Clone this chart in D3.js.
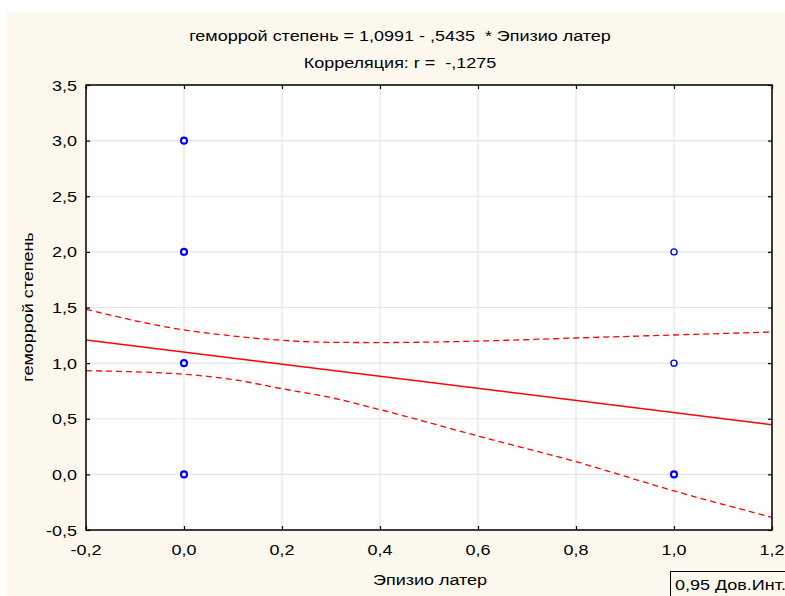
<!DOCTYPE html>
<html><head><meta charset="utf-8">
<script src="https://cdn.jsdelivr.net/npm/d3@7"></script>
<style>
html,body{margin:0;padding:0;background:#fff;}
svg{display:block;}
text{font-family:"Liberation Sans",Arial,sans-serif;fill:#000;white-space:pre;}
</style></head>
<body>
<svg id="chart" width="785" height="596"></svg>
<script>
// ---- data ----
const titleLines = ["геморрой степень = 1,0991 - ,5435  * Эпизио латер", "Корреляция: r =  -,1275"];
const xTitle = "Эпизио латер";
const yTitle = "геморрой степень";
const legendLabel = "0,95 Дов.Инт.";
const xTicks = [-0.2, 0.0, 0.2, 0.4, 0.6, 0.8, 1.0, 1.2];
const yTicks = [-0.5, 0.0, 0.5, 1.0, 1.5, 2.0, 2.5, 3.0, 3.5];
const pointX = [0, 0, 0, 0, 1, 1, 1];
const pointY = [0, 1, 2, 3, 0, 1, 2];
const pointCount = [3, 3, 3, 2, 3, 1, 1];
const regX = [-0.2, 1.2];
const regY = [1.2078, 0.4469];
const ciX = [-0.2, 0.0, 0.1, 0.2, 0.3, 0.4, 0.6, 0.8, 1.0, 1.2];
const ciUpper = [1.484, 1.298, 1.244, 1.205, 1.187, 1.185, 1.198, 1.226, 1.253, 1.280];
const ciLower = [0.932, 0.900, 0.852, 0.770, 0.690, 0.582, 0.345, 0.114, -0.149, -0.386];

// ---- layout ----
const svg = d3.select("#chart");
const L = 86, R = 772, T = 85, B = 530;
const FS = 15.5, SX = 1.16;
const fmt = v => d3.format(".1f")(v).replace(".", ",").replace("−", "-");

function label(parent, x, y, str, anchor, rot) {
  const g = parent.append("g").attr("transform", `translate(${x},${y})` + (rot ? ` rotate(${rot})` : "") + ` scale(${SX},1)`);
  g.append("text").attr("text-anchor", anchor).attr("font-size", FS).text(str);
  return g;
}

svg.append("rect").attr("x", 7).attr("y", 12).attr("width", 778).attr("height", 584).attr("fill", "#FDF8EE");

const x = d3.scaleLinear().domain([-0.2, 1.2]).range([L, R]);
const y = d3.scaleLinear().domain([-0.5, 3.5]).range([B, T]);

svg.append("rect").attr("x", L).attr("y", T).attr("width", R - L).attr("height", B - T).attr("fill", "#fff");

// grid
svg.append("g").selectAll("line").data(xTicks).join("line")
  .attr("x1", d => x(d)).attr("x2", d => x(d)).attr("y1", T).attr("y2", B)
  .attr("stroke", "#E4E4E4").attr("stroke-width", 1.2);
svg.append("g").selectAll("line").data(yTicks).join("line")
  .attr("y1", d => y(d)).attr("y2", d => y(d)).attr("x1", L).attr("x2", R)
  .attr("stroke", "#E4E4E4").attr("stroke-width", 1.2);

// clip
svg.append("clipPath").attr("id", "clip").append("rect")
  .attr("x", L).attr("y", T).attr("width", R - L).attr("height", B - T);
const plot = svg.append("g").attr("clip-path", "url(#clip)");

const lineGen = d3.line().x(d => x(d[0])).y(d => y(d[1])).curve(d3.curveMonotoneX);
plot.append("path").datum(ciX.map((v, i) => [v, ciUpper[i]]))
  .attr("d", lineGen).attr("fill", "none").attr("stroke", "#FF0000")
  .attr("stroke-width", 1.3).attr("stroke-dasharray", "6,4");
plot.append("path").datum(ciX.map((v, i) => [v, ciLower[i]]))
  .attr("d", lineGen).attr("fill", "none").attr("stroke", "#FF0000")
  .attr("stroke-width", 1.3).attr("stroke-dasharray", "6,4");
plot.append("path").datum(regX.map((v, i) => [v, regY[i]]))
  .attr("d", d3.line().x(d => x(d[0])).y(d => y(d[1]))).attr("fill", "none")
  .attr("stroke", "#FF0000").attr("stroke-width", 1.5);

// points
svg.append("g").selectAll("circle").data(pointX.map((v, i) => ({x: v, y: pointY[i], c: pointCount[i]})))
  .join("circle")
  .attr("cx", d => x(d.x)).attr("cy", d => y(d.y)).attr("r", 3)
  .attr("fill", "#fff").attr("stroke", "#0000FF")
  .attr("stroke-width", d => d.c > 1 ? 2.1 : 1.4);

// axes (ticks inward on all four sides)
const tl = 4;
svg.append("g").attr("transform", `translate(0,${B})`)
  .call(d3.axisBottom(x).tickValues(xTicks).tickFormat("").tickSizeInner(-tl).tickSizeOuter(0))
  .call(g => g.select(".domain").remove());
svg.append("g").attr("transform", `translate(0,${T})`)
  .call(d3.axisTop(x).tickValues(xTicks).tickFormat("").tickSizeInner(-tl).tickSizeOuter(0))
  .call(g => g.select(".domain").remove());
svg.append("g").attr("transform", `translate(${L},0)`)
  .call(d3.axisLeft(y).tickValues(yTicks).tickFormat("").tickSizeInner(-tl).tickSizeOuter(0))
  .call(g => g.select(".domain").remove());
svg.append("g").attr("transform", `translate(${R},0)`)
  .call(d3.axisRight(y).tickValues(yTicks).tickFormat("").tickSizeInner(-tl).tickSizeOuter(0))
  .call(g => g.select(".domain").remove());
svg.selectAll(".tick line").attr("stroke", "#000").attr("stroke-width", 1.2);

// tick labels
const tlab = svg.append("g");
xTicks.forEach(d => label(tlab, x(d), 555, fmt(d), "middle"));
yTicks.forEach(d => label(tlab, 77, y(d) + 5.5, fmt(d), "end"));

// frame
svg.append("rect").attr("x", L).attr("y", T).attr("width", R - L).attr("height", B - T)
  .attr("fill", "none").attr("stroke", "#000").attr("stroke-width", 1.5);

// titles
titleLines.forEach((d, i) => label(svg, 400, 41 + i * 26.5, d, "middle"));
label(svg, 430, 585, xTitle, "middle");
label(svg, 33, 307, yTitle, "middle", -90);

// legend box
svg.append("rect").attr("x", 670.5).attr("y", 571.5).attr("width", 120).attr("height", 30)
  .attr("fill", "none").attr("stroke", "#000").attr("stroke-width", 1);
label(svg, 675, 590, legendLabel, "start");
</script>
</body></html>
